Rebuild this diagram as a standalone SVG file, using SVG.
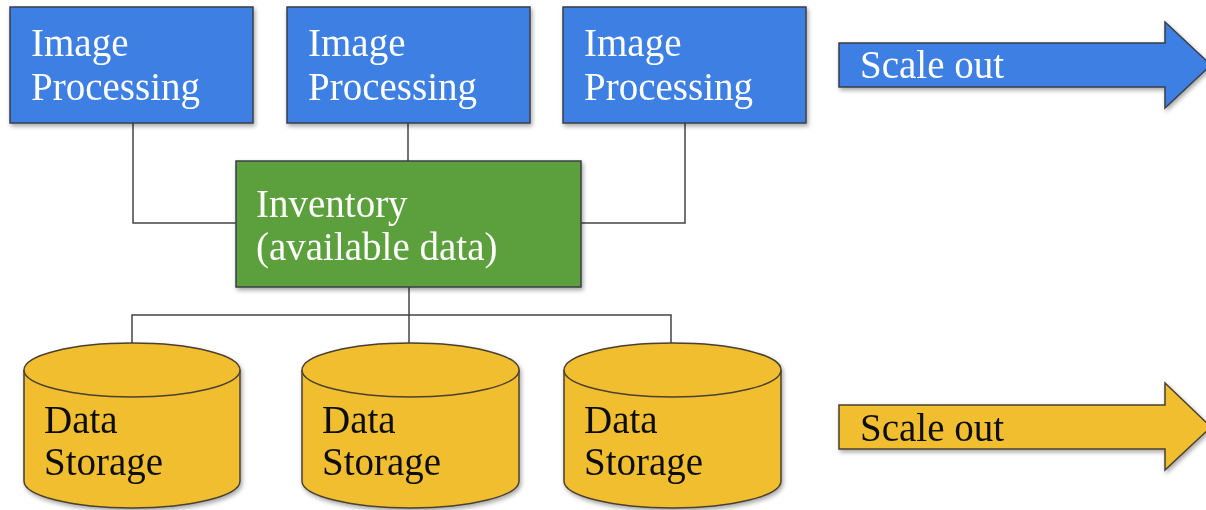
<svg xmlns="http://www.w3.org/2000/svg" width="1206" height="510" viewBox="0 0 1206 510">
<defs>
<filter id="sh" x="-10%" y="-10%" width="130%" height="130%">
<feDropShadow dx="1.5" dy="2.5" stdDeviation="2" flood-color="#000" flood-opacity="0.35"/>
</filter>
<style>
.blue{fill:#3d7fe2;stroke:#3a3f48;stroke-width:1.5}
.green{fill:#5c9f3c;stroke:#3a3f48;stroke-width:1.5}
.yellow{fill:#f0be2f;stroke:#4a4030;stroke-width:1.5}
.conn{fill:none;stroke:#444;stroke-width:1.5}
.tw{font-family:"Liberation Serif","Times New Roman",serif;font-size:39px;fill:#ffffff}
.tb{font-family:"Liberation Serif","Times New Roman",serif;font-size:39px;fill:#111111}
</style>
</defs>
<rect width="1206" height="510" fill="#ffffff"/>
<g id="connectors">
<path class="conn" d="M133,123 V223 H236"/>
<path class="conn" d="M408,123 V161"/>
<path class="conn" d="M685,123 V223 H581"/>
<path class="conn" d="M409,287 V343"/>
<path class="conn" d="M132,343 V315 H671 V343"/>
</g>
<g id="ip1" filter="url(#sh)">
<rect class="blue" x="10" y="7" width="243" height="116"/>
<text class="tw" x="31" y="56">Image</text>
<text class="tw" x="31" y="100">Processing</text>
</g>
<g id="ip2" filter="url(#sh)">
<rect class="blue" x="287" y="7" width="243" height="116"/>
<text class="tw" x="308" y="56">Image</text>
<text class="tw" x="308" y="100">Processing</text>
</g>
<g id="ip3" filter="url(#sh)">
<rect class="blue" x="563" y="7" width="243" height="116"/>
<text class="tw" x="584" y="56">Image</text>
<text class="tw" x="584" y="100">Processing</text>
</g>
<g id="inventory" filter="url(#sh)">
<rect class="green" x="236" y="161" width="345" height="126"/>
<text class="tw" x="256" y="217">Inventory</text>
<text class="tw" x="256" y="260">(available data)</text>
</g>
<g id="ds1" filter="url(#sh)">
<path class="yellow" d="M24,370 A108,27 0 0 1 240,370 V481 A108,27 0 0 1 24,481 Z"/>
<path class="yellow" d="M24,370 A108,27 0 0 0 240,370" fill="none"/>
<text class="tb" x="44" y="433">Data</text>
<text class="tb" x="44" y="475">Storage</text>
</g>
<g id="ds2" filter="url(#sh)">
<path class="yellow" d="M302,370 A108.5,27 0 0 1 519,370 V481 A108.5,27 0 0 1 302,481 Z"/>
<path class="yellow" d="M302,370 A108.5,27 0 0 0 519,370" fill="none"/>
<text class="tb" x="322" y="433">Data</text>
<text class="tb" x="322" y="475">Storage</text>
</g>
<g id="ds3" filter="url(#sh)">
<path class="yellow" d="M564,370 A108.5,27 0 0 1 781,370 V481 A108.5,27 0 0 1 564,481 Z"/>
<path class="yellow" d="M564,370 A108.5,27 0 0 0 781,370" fill="none"/>
<text class="tb" x="584" y="433">Data</text>
<text class="tb" x="584" y="475">Storage</text>
</g>
<g id="scale-out-top" filter="url(#sh)">
<path class="blue" d="M839,43 H1165 V22 L1211,65 L1165,108 V87 H839 Z"/>
<text class="tw" x="860" y="78">Scale out</text>
</g>
<g id="scale-out-bottom" filter="url(#sh)">
<path class="yellow" d="M839,405 H1165 V383 L1211,427 L1165,470 V449 H839 Z"/>
<text class="tb" x="860" y="441">Scale out</text>
</g>
</svg>
